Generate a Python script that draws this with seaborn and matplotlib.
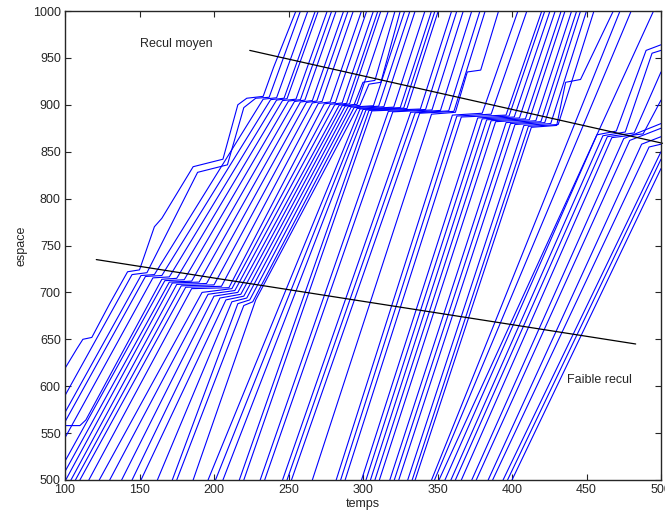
import matplotlib
matplotlib.use("Agg")
import matplotlib.pyplot as plt
import pandas as pd
import seaborn as sns

# Vehicle trajectories: breakpoints (temps, espace) for each vehicle, in platoon order
front_platoon = [
    [(100, 619), (108, 640), (112, 650), (118, 652), (130, 688), (142, 722), (150, 724), (160, 770),
     (165, 779), (186, 834), (206, 842), (216, 900), (222, 907), (233, 909), (240, 940), (255, 1000)],
    [(100, 590), (145, 719), (155, 721), (189, 828), (209, 836), (220, 897), (228, 907), (237, 908), (258, 1000)],
    [(100, 572), (151, 718), (160, 719), (233, 906), (242, 907.5), (263, 1000)],
    [(100, 562), (154, 717), (165, 718), (238, 905.5), (247, 907), (268, 1000)],
    [(100, 545), (159, 715.5), (170, 716.5), (242, 905), (249, 906.5), (270, 1000)],
    [(100, 558), (110, 558), (114, 564), (165, 714), (175, 715), (246, 904.5), (255, 906), (276, 1000)],
    [(100, 520), (167, 712.5), (180, 713.5), (250, 904), (258, 905.5), (279, 1000)],
    [(100, 509), (170, 711), (185, 712), (254, 903.5), (261, 905), (282, 1000)],
    [(100.5, 500), (172, 710), (190, 711), (258, 903), (266, 904.5), (287, 1000)],
    [(104, 500), (175, 708.5), (195, 709.5), (262, 902.5), (269, 904), (290, 1000)],
    [(107, 500), (178, 707), (200, 708), (266, 902), (272.5, 903.5), (293.5, 1000)],
    [(110, 500), (181, 705.5), (205, 706.5), (270, 901.5), (278, 903), (299, 1000)],
    [(116, 500), (185, 704), (210, 705), (274, 901), (281.5, 902.5), (302.5, 1000)],
    [(123, 500), (192, 700), (212, 704), (278, 900.5), (286, 902), (307, 1000)],
    [(130, 500), (196, 698), (214, 702), (281, 900), (289, 901.5), (310, 1000)],
    [(138, 500), (200, 696), (216, 700), (284, 899.5), (291, 901), (312, 1000)],
]

middle_platoon = [
    [(145, 500), (204, 694), (218, 698), (286, 899), (296, 900.5), (317, 1000)],
    [(151, 500), (208, 692), (220, 696), (288, 898.5), (294, 900), (300, 924), (308, 926), (321.5, 1000)],
    [(162, 500), (212, 690), (222, 694), (290, 898), (298, 899.5), (304, 922), (312, 924), (325, 1000)],
    [(172, 500), (216, 688), (224, 692), (292, 897.5), (307, 899), (328, 1000)],
    [(175, 500), (220, 686), (226, 690), (294, 897), (310.5, 898.5), (331.5, 1000)],
    [(186, 500), (228, 692), (296, 896), (314, 898), (335, 1000)],
    [(196, 500), (298, 895.5), (320.6, 897.5), (341.6, 1000)],
    [(201, 500), (300, 895), (325, 897), (346, 1000)],
    [(206, 500), (302, 894.5), (327.3, 896.5), (348.3, 1000)],
    [(217, 500), (304, 894), (329.5, 896), (350.5, 1000)],
    [(220, 500), (306, 893.5), (338.5, 895.5), (359.5, 1000)],
    [(231, 500), (317, 893), (342, 895), (363, 1000)],
    [(234, 500), (320, 892.5), (346.3, 894.5), (367.3, 1000)],
    [(246, 500), (332, 892), (352, 894), (373, 1000)],
    [(249, 500), (335, 891.5), (357.5, 893.5), (378.5, 1000)],
    [(252, 500), (338, 891), (361, 893), (382, 1000)],
]

late_platoon = [
    [(266, 500), (346, 890), (362, 892), (370, 935), (379, 937), (391, 1000)],
    [(282, 500), (360, 889), (380, 891), (404, 1000)],
    [(285, 500), (363, 888), (386, 890), (410, 1000)],
    [(288, 500), (366, 887), (396, 889), (420, 1000)],
    [(299, 500), (377, 886), (398, 888), (422, 1000)],
    [(302, 500), (380, 885), (401.5, 887), (425.5, 1000)],
    [(305, 500), (383, 884), (405, 886), (429, 1000)],
    [(308, 500), (386, 883), (409, 885), (433, 1000)],
    [(311, 500), (389, 882), (411.6, 884), (435.6, 1000)],
    [(318, 500), (396, 881), (416, 883), (440, 1000)],
    [(321, 500), (399, 880), (419.4, 882), (443.4, 1000)],
    [(324, 500), (402, 879), (422, 881), (446, 1000)],
    [(330, 500), (408, 878), (426, 880), (450, 1000)],
    [(333, 500), (411, 877), (431, 879), (455, 1000)],
    [(335, 500), (413, 876), (430, 878), (436, 924), (446, 927), (468, 1000)],
]

rear_platoon = [
    [(346, 500), (472.5, 1000)],
    [(348, 500), (480, 1000)],
    [(351, 500), (495, 1000)],
    [(355, 500), (457, 868), (470, 872), (490, 958), (500, 964)],
    [(359, 500), (461, 867), (476, 871), (494, 955), (500, 958)],
    [(362, 500), (464, 866), (482, 870), (500, 935)],
    [(366, 500), (467, 865), (488, 869), (500, 905)],
    [(373, 500), (475, 864), (500, 880)],
    [(376, 500), (479, 862), (500, 875)],
    [(384, 500), (487, 858), (500, 866)],
    [(387, 500), (492, 855), (500, 858)],
    [(394, 500), (500, 850)],
    [(397, 500), (500, 842)],
    [(400, 500), (500, 832)],
]

# Backward waves drawn over the trajectories, with their labels
wave_low_t = [121, 483]
wave_low_x = [735, 645]
wave_mid_t = [224, 501]
wave_mid_x = [958, 859]
label_mid = ("Recul moyen", 150, 965)
label_low = ("Faible recul", 437, 607)

x_ticks = list(range(100, 501, 50))
y_ticks = list(range(500, 1001, 50))

rows = []
vehicle = 0
for platoon in (front_platoon, middle_platoon, late_platoon, rear_platoon):
    for traj in platoon:
        for t, x in traj:
            rows.append({"vehicule": vehicle, "temps": t, "espace": x})
        vehicle += 1
df = pd.DataFrame(rows)

sns.set_style("ticks")
plt.rcParams["font.family"] = ["Liberation Sans", "DejaVu Sans"]
plt.rcParams["xtick.direction"] = "in"
plt.rcParams["ytick.direction"] = "in"

fig = plt.figure(figsize=(6.65, 5.16), dpi=100)
ax = fig.add_axes([65 / 665, 36 / 516, 596 / 665, 469 / 516])

sns.lineplot(data=df, x="temps", y="espace", hue="vehicule", units="vehicule",
             estimator=None, sort=False, palette=["#0000ff"] * vehicle,
             linewidth=0.8, legend=False, ax=ax)

ax.plot(wave_low_t, wave_low_x, color="black", linewidth=0.9, clip_on=False)
ax.plot(wave_mid_t, wave_mid_x, color="black", linewidth=0.9, clip_on=False)
ax.text(label_mid[1], label_mid[2], label_mid[0], fontsize=9, va="center", ha="left")
ax.text(label_low[1], label_low[2], label_low[0], fontsize=9, va="center", ha="left")

ax.set_xlim(100, 500)
ax.set_ylim(500, 1000)
ax.set_xticks(x_ticks)
ax.set_yticks(y_ticks)
ax.tick_params(labelsize=9, length=4, width=0.8, top=True, right=True, pad=3)
ax.set_xlabel("temps", fontsize=9, labelpad=1)
ax.set_ylabel("espace", fontsize=9, labelpad=4)
for side in ax.spines.values():
    side.set_linewidth(1.0)
    side.set_visible(True)

fig.savefig("out.png", dpi=100)
